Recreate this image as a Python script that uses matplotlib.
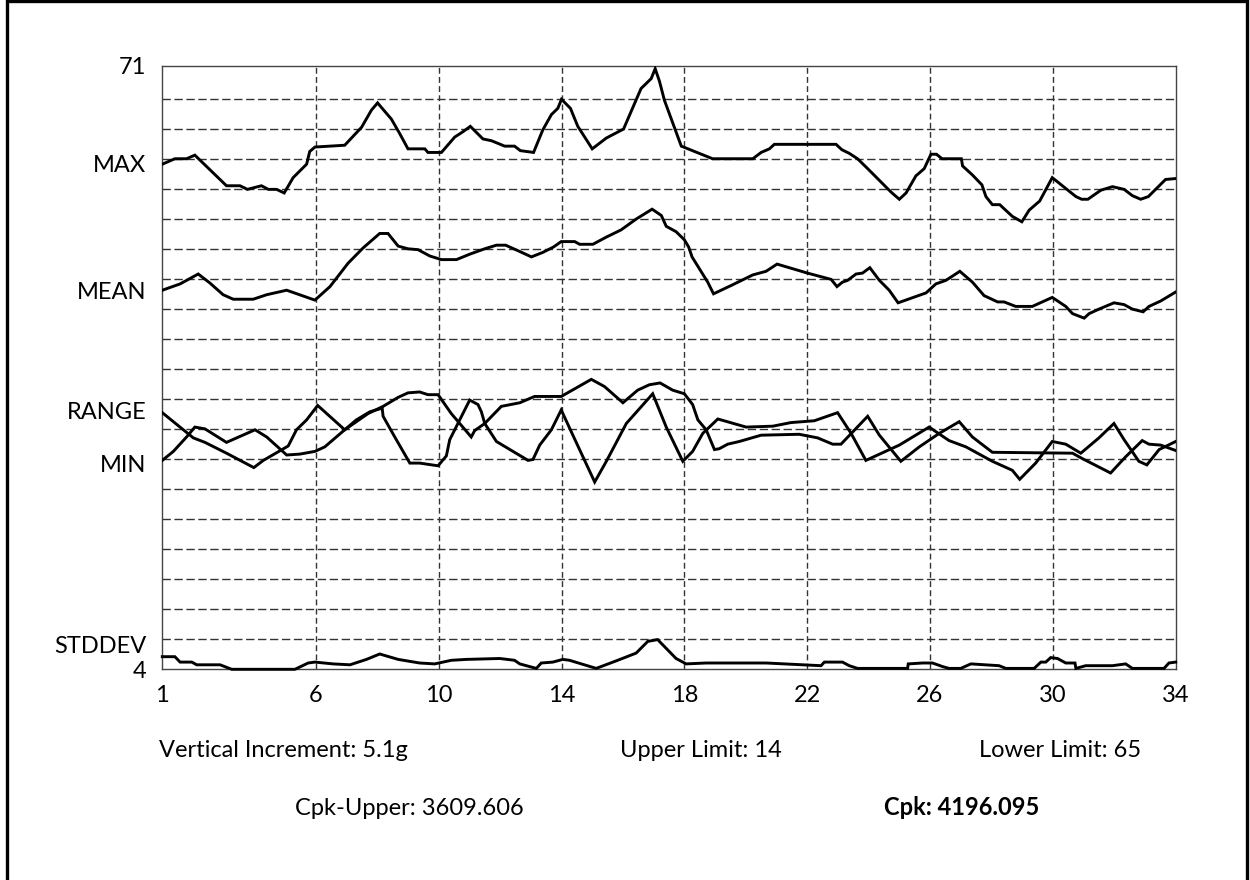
import matplotlib
matplotlib.use("Agg")
import matplotlib.pyplot as plt
from matplotlib.lines import Line2D
import numpy as np

plt.rcParams['font.family'] = ['Lato', 'DejaVu Sans']

# ---------------- data ----------------
max_x = [1.00, 1.41, 1.79, 2.06, 3.09, 3.53, 3.77, 4.23, 4.45, 4.72, 4.97, 5.26, 5.70, 5.80, 5.97,
         6.94, 7.49, 7.81, 8.01, 8.46, 8.73, 9.00, 9.55, 9.65, 10.09, 10.52, 10.79, 11.03, 11.44,
         11.72, 12.15, 12.47, 12.66, 13.09, 13.39, 13.67, 13.88, 14.00, 14.29, 14.53, 15.00, 15.46,
         16.02, 16.59, 16.92, 17.05, 17.19, 17.35, 17.90, 18.92, 20.23, 20.50, 20.77, 20.93, 22.94,
         23.13, 23.37, 23.64, 23.97, 24.35, 24.73, 25.00, 25.22, 25.54, 25.81, 26.03, 26.21, 26.39,
         27.02, 27.06, 27.38, 27.69, 27.82, 28.03, 28.27, 28.68, 28.99, 29.23, 29.57, 29.98, 30.42,
         30.75, 30.94, 31.14, 31.56, 31.94, 32.32, 32.59, 32.86, 33.11, 33.67, 34.00]
max_y = [60.1, 60.7, 60.7, 61.1, 57.7, 57.7, 57.3, 57.7, 57.3, 57.3, 56.9, 58.6, 60.1, 61.5, 62.0,
         62.2, 64.2, 66.1, 66.9, 65.1, 63.5, 61.8, 61.8, 61.4, 61.4, 63.1, 63.7, 64.3, 62.9,
         62.7, 62.1, 62.1, 61.6, 61.4, 63.9, 65.6, 66.3, 67.3, 66.3, 64.3, 61.8, 63.0,
         64.0, 68.5, 69.6, 70.7, 69.3, 67.2, 62.1, 60.7, 60.7, 61.4, 61.8, 62.3, 62.3,
         61.7, 61.3, 60.7, 59.6, 58.3, 57.0, 56.2, 56.9, 58.8, 59.6, 61.2, 61.2, 60.7,
         60.7, 59.9, 58.9, 57.8, 56.5, 55.6, 55.6, 54.3, 53.7, 55.0, 56.0, 58.6, 57.4,
         56.5, 56.2, 56.2, 57.2, 57.6, 57.3, 56.6, 56.2, 56.5, 58.4, 58.5]

mean_x = [1.00, 1.58, 2.17, 2.55, 2.98, 3.31, 3.96, 4.40, 5.05, 5.97, 6.46, 7.05, 7.54, 8.08, 8.35,
          8.68, 9.00, 9.33, 9.71, 10.09, 10.58, 11.01, 11.50, 11.88, 12.18, 12.64, 13.02, 13.39,
          13.74, 13.99, 14.43, 14.59, 15.02, 15.46, 15.94, 16.43, 16.95, 17.25, 17.41, 17.73, 18.00,
          18.14, 18.25, 18.76, 18.95, 19.57, 20.23, 20.66, 21.02, 22.01, 22.78, 22.97, 23.15, 23.32,
          23.59, 23.80, 24.04, 24.35, 24.67, 24.96, 25.87, 26.19, 26.52, 26.97, 27.38, 27.76, 28.20,
          28.41, 28.79, 29.33, 29.98, 30.42, 30.64, 31.02, 31.18, 31.50, 31.99, 32.32, 32.59, 32.94,
          33.13, 33.51, 34.00]
mean_y = [46.1, 46.8, 47.9, 46.9, 45.6, 45.1, 45.1, 45.6, 46.1, 45.0, 46.5, 49.1, 50.8, 52.4, 52.4,
          51.0, 50.7, 50.6, 49.9, 49.5, 49.5, 50.1, 50.7, 51.1, 51.1, 50.4, 49.8, 50.3,
          50.9, 51.5, 51.5, 51.2, 51.2, 52.0, 52.8, 54.0, 55.1, 54.4, 53.2, 52.6, 51.7,
          50.9, 49.8, 47.0, 45.7, 46.7, 47.8, 48.2, 49.0, 48.0, 47.3, 46.5, 47.0, 47.2,
          47.9, 48.0, 48.6, 47.2, 46.1, 44.7, 45.8, 46.8, 47.2, 48.2, 47.0, 45.5, 44.8,
          44.8, 44.3, 44.3, 45.3, 44.3, 43.5, 43.0, 43.5, 44.0, 44.7, 44.5, 44.0, 43.7,
          44.3, 44.9, 45.9]

range_x = [1.00, 1.36, 2.01, 2.39, 3.09, 3.98, 4.29, 5.10, 5.37, 5.70, 6.06, 6.94, 7.32, 7.76, 8.16,
           8.19, 8.57, 9.06, 9.38, 9.98, 10.25, 10.36, 11.01, 11.28, 11.39, 11.50, 11.88, 12.42,
           12.91, 13.07, 13.29, 13.67, 13.99, 14.37, 15.08, 15.46, 16.11, 16.97, 17.41, 17.95,
           18.27, 18.60, 19.09, 20.01, 20.88, 21.47, 22.23, 22.99, 23.43, 23.91, 25.00, 25.97,
           26.62, 27.17, 28.03, 28.68, 28.92, 29.44, 29.98, 30.42, 30.91, 31.50, 31.99, 32.32,
           32.80, 33.06, 33.46, 34.00]
range_y = [32.5, 31.5, 29.7, 29.2, 28.0, 26.4, 27.2, 28.8, 30.6, 31.7, 33.3, 30.6, 31.7, 32.6, 33.0,
           32.1, 29.8, 26.9, 26.9, 26.6, 27.7, 29.5, 33.9, 33.4, 32.6, 31.3, 29.3, 28.2,
           27.2, 27.3, 28.9, 30.6, 32.8, 30.0, 24.8, 27.1, 31.3, 34.6, 30.9, 27.1,
           28.2, 30.2, 31.8, 30.9, 31.0, 31.4, 31.6, 32.5, 30.2, 27.2, 28.9, 30.9,
           29.4, 28.7, 27.1, 26.1, 25.1, 26.9, 29.3, 29.0, 28.0, 29.7, 31.3, 29.5,
           27.1, 26.7, 28.4, 29.3]

min_x = [1.00, 1.36, 1.79, 2.06, 2.39, 3.09, 4.02, 4.40, 5.05, 5.48, 5.97, 6.29, 6.94, 7.70, 8.19,
         8.68, 9.00, 9.38, 9.65, 9.98, 10.41, 11.06, 11.17, 11.50, 12.04, 12.64, 13.12, 13.99,
         14.97, 15.40, 16.00, 16.48, 16.86, 17.21, 17.62, 18.00, 18.27, 18.44, 18.71, 18.98,
         19.14, 19.41, 19.79, 20.50, 21.74, 22.34, 22.83, 23.10, 23.97, 24.35, 25.05, 25.65,
         26.30, 26.95, 27.38, 28.03, 30.64, 30.96, 31.88, 32.37, 32.91, 33.13, 33.51, 34.00]
min_y = [27.2, 28.2, 29.8, 30.9, 30.7, 29.2, 30.6, 29.8, 27.8, 27.9, 28.2, 28.7, 30.6, 32.4, 33.2,
         34.2, 34.7, 34.8, 34.5, 34.5, 32.4, 29.8, 30.5, 31.3, 33.2, 33.6, 34.3, 34.3,
         36.2, 35.4, 33.6, 35.0, 35.6, 35.8, 35.0, 34.6, 33.4, 31.7, 30.6, 28.4,
         28.5, 29.0, 29.3, 30.0, 30.1, 29.7, 29.0, 29.0, 32.1, 30.0, 27.1, 28.7,
         30.2, 31.5, 29.8, 28.1, 28.0, 27.4, 25.8, 27.6, 29.4, 29.0, 28.9, 28.3]

std_x = [1.00, 1.41, 1.58, 1.96, 2.12, 2.88, 3.26, 5.32, 5.75, 5.97, 6.56, 7.11, 7.65, 8.08, 8.68,
         9.38, 9.87, 10.41, 10.90, 11.99, 12.47, 12.64, 13.18, 13.34, 13.72, 14.04, 14.26, 15.13,
         15.83, 16.43, 16.81, 17.13, 17.73, 18.06, 18.71, 20.66, 22.45, 22.56, 23.15, 23.37,
         23.64, 25.27, 25.29, 25.76, 26.08, 26.41, 26.62, 27.00, 27.33, 28.25, 28.47, 29.39,
         29.61, 29.77, 29.93, 30.15, 30.42, 30.72, 30.75, 31.07, 31.94, 32.37, 32.59, 33.62,
         33.78, 34.00]
std_y = [5.4, 5.4, 4.8, 4.8, 4.5, 4.5, 4.0, 4.0, 4.7, 4.8, 4.6, 4.5, 5.1, 5.7, 5.1,
         4.7, 4.6, 5.0, 5.1, 5.2, 5.0, 4.6, 4.1, 4.7, 4.8, 5.1, 5.0, 4.1,
         5.0, 5.8, 7.1, 7.3, 5.2, 4.6, 4.7, 4.7, 4.4, 4.8, 4.8, 4.4,
         4.1, 4.1, 4.6, 4.7, 4.7, 4.3, 4.1, 4.1, 4.6, 4.4, 4.1, 4.1,
         4.8, 4.8, 5.3, 5.2, 4.7, 4.7, 4.1, 4.4, 4.4, 4.6, 4.1, 4.1,
         4.7, 4.8]

x_ticks = [1, 6, 10, 14, 18, 22, 26, 30, 34]
y_tick_pos = [71, 60.2, 46.1, 32.7, 26.9, 6.8, 4]
y_tick_labels = ['71', 'MAX', 'MEAN', 'RANGE', 'MIN', 'STDDEV', '4']

info_row1 = ['Vertical Increment: 5.1g', 'Upper Limit: 14', 'Lower Limit: 65']
info_row2 = ['Cpk-Upper: 3609.606', 'Cpk: 4196.095']

# ---------------- figure ----------------
W, H = 1250, 880
fig = plt.figure(figsize=(W / 100, H / 100), dpi=100)
ax = fig.add_axes([162.3 / W, 1 - 669.3 / H, (1175.7 - 162.3) / W, (669.3 - 66) / H])
ax.set_xlim(1, 34)
ax.set_ylim(4, 71)

hgrid_kw = dict(color='#333333', lw=1.0, linestyle=(0, (6, 2.6)), zorder=1)
vgrid_kw = dict(color='#333333', lw=1.0, linestyle=(0, (4.2, 2.4)), zorder=1)
for gy in np.arange(7.36, 68.0, 3.331):
    ax.axhline(gy, **hgrid_kw)
for gx in x_ticks[1:-1]:
    ax.axvline(gx, **vgrid_kw)

line_kw = dict(color='black', lw=2.1, solid_joinstyle='miter', zorder=3)
ax.plot(max_x, max_y, **line_kw)
ax.plot(mean_x, mean_y, **line_kw)
ax.plot(range_x, range_y, **line_kw)
ax.plot(min_x, min_y, **line_kw)
ax.plot(std_x, std_y, clip_on=False, **line_kw)

for s in ax.spines.values():
    s.set_color('#444444')
    s.set_linewidth(1.0)

ax.set_xticks(x_ticks)
ax.set_xticklabels([str(t) for t in x_ticks])
ax.set_yticks(y_tick_pos)
ax.set_yticklabels(y_tick_labels)
ax.tick_params(axis='both', length=0, labelsize=17, colors='black')
ax.tick_params(axis='x', pad=11)
ax.tick_params(axis='y', pad=11.5)

# info text
fs = 17
fig.text(283.5 / W, 1 - 757 / H, info_row1[0], ha='center', va='baseline', fontsize=fs)
fig.text(700.5 / W, 1 - 757 / H, info_row1[1], ha='center', va='baseline', fontsize=fs)
fig.text(1060.5 / W, 1 - 757 / H, info_row1[2], ha='center', va='baseline', fontsize=fs)
fig.text(409.5 / W, 1 - 815 / H, info_row2[0], ha='center', va='baseline', fontsize=fs)
fig.text(962 / W, 1 - 815 / H, info_row2[1], ha='center', va='baseline', fontsize=fs,
         fontweight='bold')

# frame around figure (left, top, right)
fig.add_artist(Line2D([6.5 / W, 6.5 / W, 1247 / W, 1247 / W],
                      [0, 1 - 1.5 / H, 1 - 1.5 / H, 0],
                      transform=fig.transFigure, color='black', lw=2.4,
                      solid_joinstyle='miter'))

fig.savefig('out.png', dpi=100)
